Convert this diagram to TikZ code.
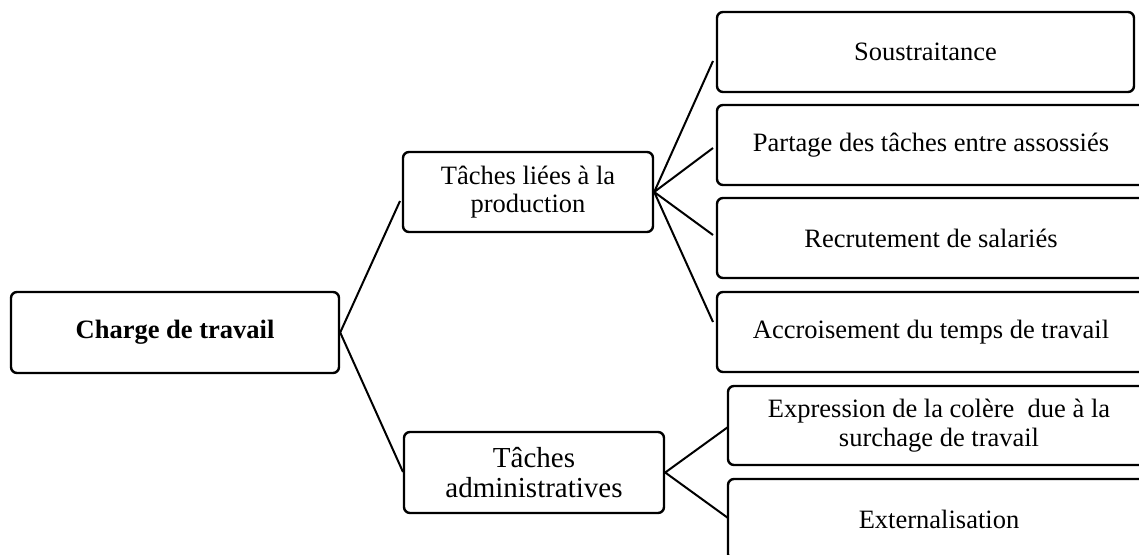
\documentclass[tikz,border=0pt]{standalone}
\usepackage{fontspec}
\setmainfont{Liberation Serif}
\begin{document}
\begin{tikzpicture}[x=1pt,y=-1pt,
  box/.style={draw,line width=2.4pt,rounded corners=6pt,inner sep=0pt,align=center,
    font=\fontsize{26.5}{28.5}\selectfont},
  link/.style={line width=2pt}]
\useasboundingbox (0,0) rectangle (1139,554);
\clip (0,0) rectangle (1139,554);
\node[box,minimum width=328pt,minimum height=81pt,font=\fontsize{26.5}{28.5}\selectfont\bfseries] (root) at (175,332.5) {Charge de travail};
\node[box,minimum width=250pt,minimum height=80pt] (lie) at (528,192) {Tâches liées à la\\production};
\node[box,minimum width=260pt,minimum height=81pt,font=\fontsize{29}{30}\selectfont] (adm) at (534,472.5) {Tâches\\administratives};
\node[box,minimum width=417pt,minimum height=80pt] (s1) at (925.5,52) {Soustraitance};
\node[box,minimum width=428pt,minimum height=80pt] (s2) at (931,145) {Partage des tâches entre assossiés};
\node[box,minimum width=428pt,minimum height=80pt] (s3) at (931,238) {Recrutement de salariés};
\node[box,minimum width=428pt,minimum height=80pt] (s4) at (931,332) {Accroisement du temps de travail};
\node[box,minimum width=422pt,minimum height=79pt] (e1) at (939,425.5) {Expression de la colère ~due à la\\surchage de travail};
\node[box,minimum width=422pt,minimum height=81pt] (e2) at (939,519.5) {Externalisation};
\coordinate (rl) at (400,201);
\coordinate (ra) at (403,472);
\coordinate (l1) at (713,61);
\coordinate (l2) at (713,148);
\coordinate (l3) at (713,235);
\coordinate (l4) at (713,322);
\coordinate (a1) at (728,427);
\coordinate (a2) at (728,518);
\draw[link] (rl) -- (root.east) -- (ra);
\draw[link] (lie.east) -- (l1);
\draw[link] (lie.east) -- (l2);
\draw[link] (lie.east) -- (l3);
\draw[link] (lie.east) -- (l4);
\draw[link] (a1) -- (adm.east) -- (a2);
\end{tikzpicture}
\end{document}
